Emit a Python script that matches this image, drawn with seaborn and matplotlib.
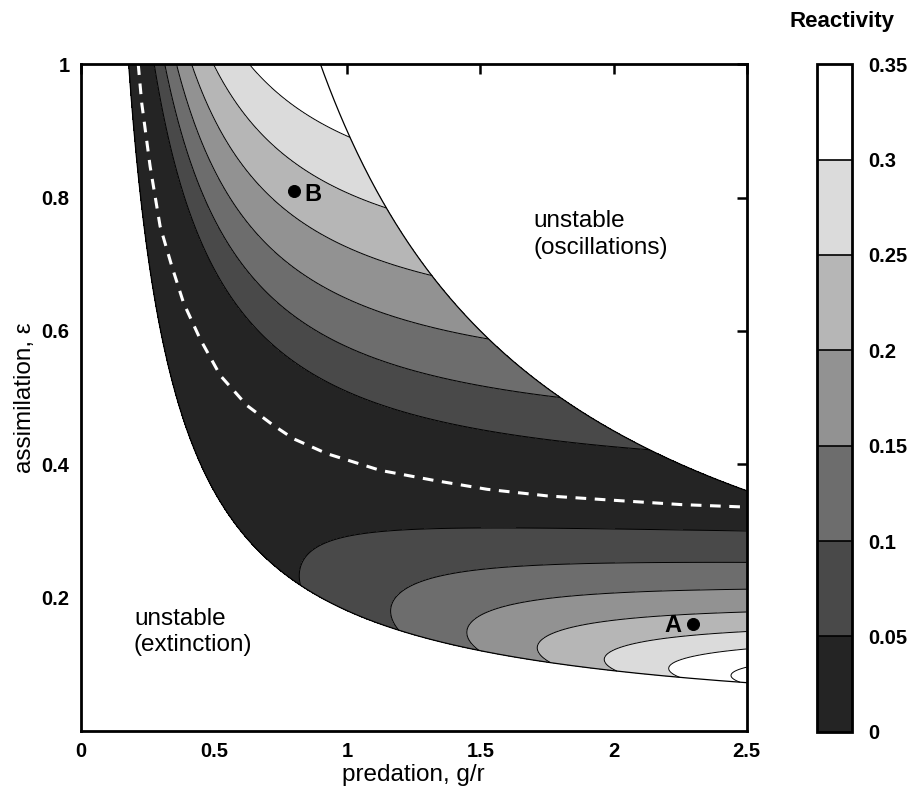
import numpy as np
import matplotlib
matplotlib.use("Agg")
import matplotlib.pyplot as plt
from matplotlib.colors import ListedColormap, BoundaryNorm
import matplotlib.colorbar as mcolorbar
import seaborn as sns
import pandas as pd

# ---------------- data ----------------
# predator-prey model (r = 1, K = 1) parameters
half_saturation = 0.8
predator_mortality = 0.1
extinction_u = predator_mortality * (1 + half_saturation)        # eps*g at extinction
hopf_u = predator_mortality * (1 + half_saturation) / (1 - half_saturation)  # eps*g at Hopf

# reactivity contour levels
levels = [0.0, 0.05, 0.10, 0.15, 0.20, 0.25, 0.30, 0.35]
level_labels = ["0", "0.05", "0.1", "0.15", "0.2", "0.25", "0.3", "0.35"]

# dashed curve
dash_g = [0.216, 0.229, 0.2605, 0.298, 0.342, 0.386, 0.4485, 0.524, 0.624, 0.724,
          0.799, 0.925, 1.125, 1.326, 1.526, 1.752, 2.002, 2.253, 2.5]
dash_eps = [1.0, 0.942, 0.847, 0.757, 0.697, 0.642, 0.5876, 0.533, 0.488, 0.458,
            0.438, 0.4156, 0.3906, 0.3756, 0.3622, 0.3523, 0.3457, 0.3393, 0.3355]

# marked points
point_names = ["A", "B"]
point_g = [2.3, 0.8]
point_eps = [0.16, 0.81]

x_ticks = [0, 0.5, 1, 1.5, 2, 2.5]
x_ticklabels = ["0", "0.5", "1", "1.5", "2", "2.5"]
y_ticks = [0.2, 0.4, 0.6, 0.8, 1.0]
y_ticklabels = ["0.2", "0.4", "0.6", "0.8", "1"]

# ---------------- model field ----------------
g_grid = np.linspace(0.15, 2.5, 900)
u_grid = np.linspace(extinction_u, hopf_u, 900)
G, U = np.meshgrid(g_grid, u_grid)
E = U / G
D = half_saturation
m = predator_mortality
N = m * D / (U - m)
P = (1 - N) * (D + N) / G
J11 = 1 - 2 * N - G * P * D / (D + N) ** 2
J12 = -G * N / (D + N)
J21 = U * P * D / (D + N) ** 2
REACT = J11 / 2 + np.sqrt(J11 ** 2 / 4 + ((J12 + J21) / 2) ** 2)

# ---------------- style ----------------
sns.set_style("white")
plt.rcParams["font.family"] = ["Liberation Sans", "DejaVu Sans"]
plt.rcParams["text.color"] = "black"
plt.rcParams["axes.labelcolor"] = "black"
plt.rcParams["xtick.color"] = "black"
plt.rcParams["ytick.color"] = "black"

grays = [(v, v, v) for v in np.arange(1, 8) / 7.0]
fill_colors = grays + [(1, 1, 1)]
fill_levels = [-0.01] + levels[1:] + [1.0]

fig = plt.figure(figsize=(9.14, 7.93), dpi=100)
ax = fig.add_axes([0.0883, 0.0786, 0.7287, 0.8403])

ax.contourf(G, E, REACT, levels=fill_levels, colors=fill_colors)
ax.contour(G, E, REACT, levels=levels[1:], colors="k", linewidths=0.7)

gb = np.linspace(0.17, 2.55, 500)
ax.plot(gb, hopf_u / gb, color="k", lw=0.9)
ax.plot(gb, extinction_u / gb, color="k", lw=0.9)

dash_df = pd.DataFrame({"g": dash_g, "eps": dash_eps})
sns.lineplot(data=dash_df, x="g", y="eps", sort=False, ax=ax, color="white",
             lw=2.2, dashes=False, linestyle=(0, (3.5, 2.8)))

pts = pd.DataFrame({"g": point_g, "eps": point_eps, "name": point_names})
sns.scatterplot(data=pts, x="g", y="eps", ax=ax, color="k", s=75, edgecolor="k", zorder=5)
ax.text(point_g[0] - 0.045, point_eps[0] - 0.002, point_names[0], ha="right", va="center",
        fontsize=17, fontweight="bold")
ax.text(point_g[1] + 0.04, point_eps[1] - 0.005, point_names[1], ha="left", va="center",
        fontsize=17, fontweight="bold")

ax.text(1.70, 0.745, "unstable\n(oscillations)", ha="left", va="center", fontsize=17.5,
        linespacing=1.3)
ax.text(0.20, 0.148, "unstable\n(extinction)", ha="left", va="center", fontsize=17.5,
        linespacing=1.25)

ax.set_xlim(0, 2.5)
ax.set_ylim(0, 1)
ax.set_xticks(x_ticks)
ax.set_xticklabels(x_ticklabels)
ax.set_yticks(y_ticks)
ax.set_yticklabels(y_ticklabels)
ax.tick_params(direction="in", length=7, width=1.8, top=True, right=True,
               labelsize=14.5, pad=8, colors="black")
for lab in ax.get_xticklabels() + ax.get_yticklabels():
    lab.set_fontweight("bold")
for sp in ax.spines.values():
    sp.set_visible(True)
    sp.set_linewidth(2.0)
    sp.set_color("k")
ax.set_xlabel("predation, g/r", fontsize=17.5, labelpad=2, color="black")
ax.set_ylabel("assimilation, ε", fontsize=17.5, labelpad=4, color="black")
ax.grid(False)
ax.set_facecolor("white")

# ---------------- colorbar ----------------
cax = fig.add_axes([0.8936, 0.0773, 0.0383, 0.8416])
cb = mcolorbar.ColorbarBase(cax, cmap=ListedColormap(grays),
                            norm=BoundaryNorm(levels, 7), boundaries=levels,
                            ticks=levels, drawedges=True, spacing="uniform")
cb.set_ticklabels(level_labels)
cb.outline.set_linewidth(2.0)
cb.outline.set_edgecolor("k")
cb.dividers.set_linewidth(1.2)
cb.dividers.set_color("k")
cax.tick_params(length=0, labelsize=14.5, pad=12, colors="black")
for lab in cax.get_yticklabels():
    lab.set_fontweight("bold")
fig.text(842 / 914, 1 - 21 / 793, "Reactivity", fontsize=16, fontweight="bold",
         ha="center", va="center", color="black")

fig.savefig("out.png", dpi=100, facecolor="white")
